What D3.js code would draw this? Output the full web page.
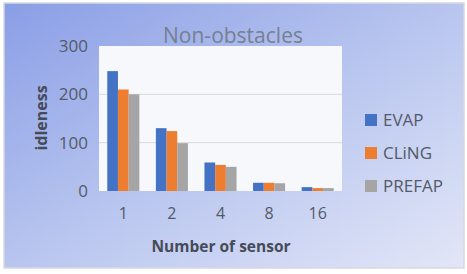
<!DOCTYPE html>
<html>
<head>
<meta charset="utf-8">
<script src="https://cdn.jsdelivr.net/npm/d3@7"></script>
<style>
	html, body { margin: 0; padding: 0; background: #fff; }
	svg { display: block; font-family: "Open Sans", "Noto Sans", sans-serif; }
</style>
</head>
<body>
<script>
(function() {

"use strict";

const SENSORS = ["1", "2", "4", "8", "16"];
const SERIES = ["EVAP", "CLiNG", "PREFAP"];
const EVAP   = [248, 130, 59, 17, 8];
const CLING  = [210, 124, 54, 17, 6];
const PREFAP = [200, 99, 50, 16, 6];
const Y_TICKS = [0, 100, 200, 300];
const COLORS = ["#4472c4", "#ed7d31", "#a5a5a5"];

const width = 467, height = 274;
const plot = {left: 99, right: 342, top: 46, bottom: 191};

let rows = SENSORS.map((s, i) => ({sensor: s, EVAP: EVAP[i], CLiNG: CLING[i], PREFAP: PREFAP[i]}));

let svg = d3.select(document.body).append("svg")
	.attr("width", width)
	.attr("height", height);

let defs = svg.append("defs");
let grad = defs.append("linearGradient")
	.attr("id", "bg")
	.attr("x1", "0%").attr("y1", "0%")
	.attr("x2", "100%").attr("y2", "100%");
grad.append("stop").attr("offset", "0%").attr("stop-color", "#8a9ee6");
grad.append("stop").attr("offset", "50%").attr("stop-color", "#b8c5ef");
grad.append("stop").attr("offset", "100%").attr("stop-color", "#e2e6f7");

// outer frame
svg.append("rect")
	.attr("x", 4).attr("y", 3)
	.attr("width", 460).attr("height", 265)
	.attr("fill", "url(#bg)")
	.attr("stroke", "#d6d9e0")
	.attr("stroke-width", 1.5);

// plot area
svg.append("rect")
	.attr("x", plot.left).attr("y", plot.top)
	.attr("width", plot.right - plot.left).attr("height", plot.bottom - plot.top)
	.attr("fill", "#f7f8fb");

let x = d3.scaleBand()
	.domain(SENSORS)
	.range([plot.left, plot.right])
	.paddingInner(0.34)
	.paddingOuter(0.17);

let xs = d3.scaleBand()
	.domain(SERIES)
	.range([0, x.bandwidth()]);

let y = d3.scaleLinear()
	.domain([0, 300])
	.range([plot.bottom, plot.top]);

let color = d3.scaleOrdinal().domain(SERIES).range(COLORS);

// gridlines
svg.append("g")
	.selectAll("line")
	.data(Y_TICKS.filter(t => t > 0 && t < 300))
	.join("line")
		.attr("x1", plot.left).attr("x2", plot.right)
		.attr("y1", d => y(d)).attr("y2", d => y(d))
		.attr("stroke", "#d9d9d9")
		.attr("stroke-width", 1);

// bars
svg.append("g")
	.selectAll("g")
	.data(rows)
	.join("g")
		.attr("transform", d => `translate(${x(d.sensor)},0)`)
	.selectAll("rect")
	.data(d => SERIES.map(k => ({key: k, value: d[k]})))
	.join("rect")
		.attr("x", d => xs(d.key))
		.attr("y", d => y(d.value))
		.attr("width", xs.bandwidth())
		.attr("height", d => y(0) - y(d.value))
		.attr("fill", d => color(d.key));

// y axis
let yAxis = svg.append("g")
	.attr("transform", `translate(${plot.left - 11},0)`)
	.call(d3.axisLeft(y).tickValues(Y_TICKS).tickSize(0).tickPadding(0));
yAxis.select(".domain").remove();
yAxis.selectAll("text")
	.attr("font-size", 17)
	.attr("font-family", "Open Sans, sans-serif")
	.attr("fill", "#535a68");

// x axis
let xAxis = svg.append("g")
	.attr("transform", `translate(0,${plot.bottom})`)
	.call(d3.axisBottom(x).tickSize(0).tickPadding(17));
xAxis.select(".domain").remove();
xAxis.selectAll("text")
	.attr("font-size", 16)
	.attr("font-family", "Open Sans, sans-serif")
	.attr("fill", "#535a68");

// title
svg.append("text")
	.attr("x", 233).attr("y", 43)
	.attr("text-anchor", "middle")
	.attr("font-size", 21)
	.attr("fill", "#76808f")
	.text("Non-obstacles");

// axis titles
svg.append("text")
	.attr("transform", "translate(47,118) rotate(-90)")
	.attr("text-anchor", "middle")
	.attr("font-size", 16)
	.attr("font-weight", "bold")
	.attr("fill", "#454b58")
	.text("idleness");

svg.append("text")
	.attr("x", 221).attr("y", 252)
	.attr("text-anchor", "middle")
	.attr("font-size", 15.5)
	.attr("font-weight", "bold")
	.attr("fill", "#454b58")
	.text("Number of sensor");

// legend
let legend = svg.append("g")
	.selectAll("g")
	.data(SERIES)
	.join("g")
		.attr("transform", (d, i) => `translate(365,${114 + i * 33})`);
legend.append("rect")
	.attr("width", 12).attr("height", 12)
	.attr("fill", d => color(d));
legend.append("text")
	.attr("x", 18).attr("y", 12)
	.attr("font-size", 17)
	.attr("fill", "#535a68")
	.text(d => d);

})();
</script>
</body>
</html>
